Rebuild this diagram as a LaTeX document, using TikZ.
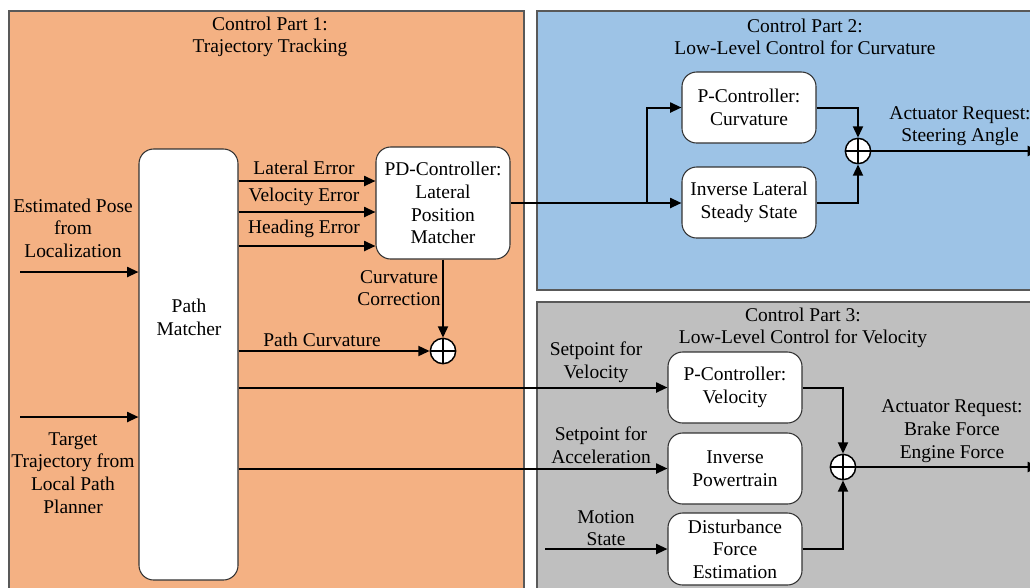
\documentclass[tikz,border=0pt]{standalone}
\usepackage{fontspec}
\setmainfont{Liberation Serif}
\usetikzlibrary{arrows.meta}
\definecolor{orangebg}{RGB}{244,177,131}
\definecolor{bluebg}{RGB}{157,195,230}
\definecolor{graybg}{RGB}{191,191,191}
\definecolor{edgegray}{RGB}{89,89,89}
\begin{document}
\begin{tikzpicture}[x=0.75pt,y=-0.75pt,
  font=\fontsize{14.6}{17}\selectfont,
  panel/.style={draw=edgegray,line width=0.9pt},
  block/.style={draw=black!80,fill=white,rounded corners=11pt,line width=0.8pt,align=center,inner sep=0pt},
  lbl/.style={align=center,inner sep=0pt},
  arr/.style={line width=1.5pt,-{Triangle[length=8.5pt,width=7.5pt]}},
  sumnode/.style={circle,draw=black,fill=white,line width=1.1pt,minimum size=19pt,inner sep=0pt,
    path picture={\draw[line width=0.9pt] (path picture bounding box.north) -- (path picture bounding box.south) (path picture bounding box.west) -- (path picture bounding box.east);}}
]
\useasboundingbox (0,0) rectangle (1030,587);
\clip (0,0) rectangle (1030,587);
\fill[white] (0,0) rectangle (1030,587);

% panels
\draw[panel,fill=orangebg] (9,11) rectangle (524,600);
\draw[panel,fill=bluebg] (537,11) rectangle (1040,290);
\draw[panel,fill=graybg] (537,302) rectangle (1040,600);

% titles
\node[lbl] (t1) at (270,37) {Control Part 1:\\Trajectory Tracking};
\node[lbl] (t2) at (805,37) {Control Part 2:\\Low-Level Control for Curvature};
\node[lbl] (t3) at (803,328) {Control Part 3:\\Low-Level Control for Velocity};

% blocks
\node[block,minimum width=74.25pt,minimum height=323.25pt] (pm) at (188.5,364.5) {};
\node[lbl] (pmtext) at (189,317) {Path\\Matcher};
\node[block,minimum width=100.5pt,minimum height=84pt] (pd) at (443,203) {PD-Controller:\\Lateral\\Position\\Matcher};
\node[block,minimum width=100.5pt,minimum height=53.25pt] (pc) at (749,107.5) {P-Controller:\\Curvature};
\node[block,minimum width=100.5pt,minimum height=53.25pt] (il) at (749,202.5) {Inverse Lateral\\Steady State};
\node[block,minimum width=100.5pt,minimum height=53.25pt] (pv) at (735,387.5) {P-Controller:\\Velocity};
\node[block,minimum width=100.5pt,minimum height=53.25pt] (ip) at (735,468.5) {Inverse\\Powertrain};
\node[block,minimum width=100.5pt,minimum height=54pt] (df) at (735,549) {Disturbance\\Force\\Estimation};

% sums
\node[sumnode] (s1) at (443,351) {};
\node[sumnode] (s2) at (858,151) {};
\node[sumnode] (s3) at (843,467) {};

% free ends
\coordinate (ein) at (20,272);
\coordinate (tin) at (20,417);
\coordinate (msin) at (545,549);
\coordinate (br) at (647,203);
\coordinate (out2) at (1039,151);
\coordinate (out3) at (1039,467);

% inputs to path matcher
\node[lbl] (eplbl) at (73,228) {Estimated Pose\\from\\Localization};
\draw[arr] (ein) -- (ein -| pm.west);
\node[lbl] (ttlbl) at (73,473) {Target\\Trajectory from\\Local Path\\Planner};
\draw[arr] (tin) -- (tin -| pm.west);

% path matcher to PD
\draw[arr] (pm.east |- 0,181) -- (pd.west |- 0,181);
\draw[arr] (pm.east |- 0,212) -- (pd.west |- 0,212);
\draw[arr] (pm.east |- 0,246) -- (pd.west |- 0,246);
\node[lbl] (le) at (304,168) {Lateral Error};
\node[lbl] (ve) at (304,197) {Velocity Error};
\node[lbl] (he) at (304,229) {Heading Error};

% curvature correction and path curvature
\draw[arr] (pd.south) -- (s1.north);
\node[lbl] (cc) at (399,288) {Curvature\\Correction};
\draw[arr] (pm.east |- s1) -- (s1.west);
\node[lbl] (pcl) at (322,340) {Path Curvature};

% part 2
\draw[arr] (pd.east) -- (pd.east -| il.west);
\draw[arr] (br) |- (pc.west);
\draw[arr] (pc.east) -| (s2.north);
\draw[arr] (il.east) -| (s2.south);
\draw[arr] (s2.east) -- (out2);
\node[lbl] (ar1) at (960,126) {Actuator Request:\\Steering Angle};

% part 3
\draw[arr] (pm.east |- pv.west) -- (pv.west);
\node[lbl] (spv) at (596,362) {Setpoint for\\Velocity};
\draw[arr] (pm.east |- ip.west) -- (ip.west);
\node[lbl] (spa) at (601,445) {Setpoint for\\Acceleration};
\draw[arr] (msin) -- (msin -| df.west);
\node[lbl] (msl) at (606,528) {Motion\\State};
\draw[arr] (pv.east) -| (s3.north);
\draw[arr] (df.east) -| (s3.south);
\draw[arr] (s3.east) -- (out3);
\node[lbl] (ar2) at (952,431) {Actuator Request:\\Brake Force\\Engine Force};
\end{tikzpicture}
\end{document}
